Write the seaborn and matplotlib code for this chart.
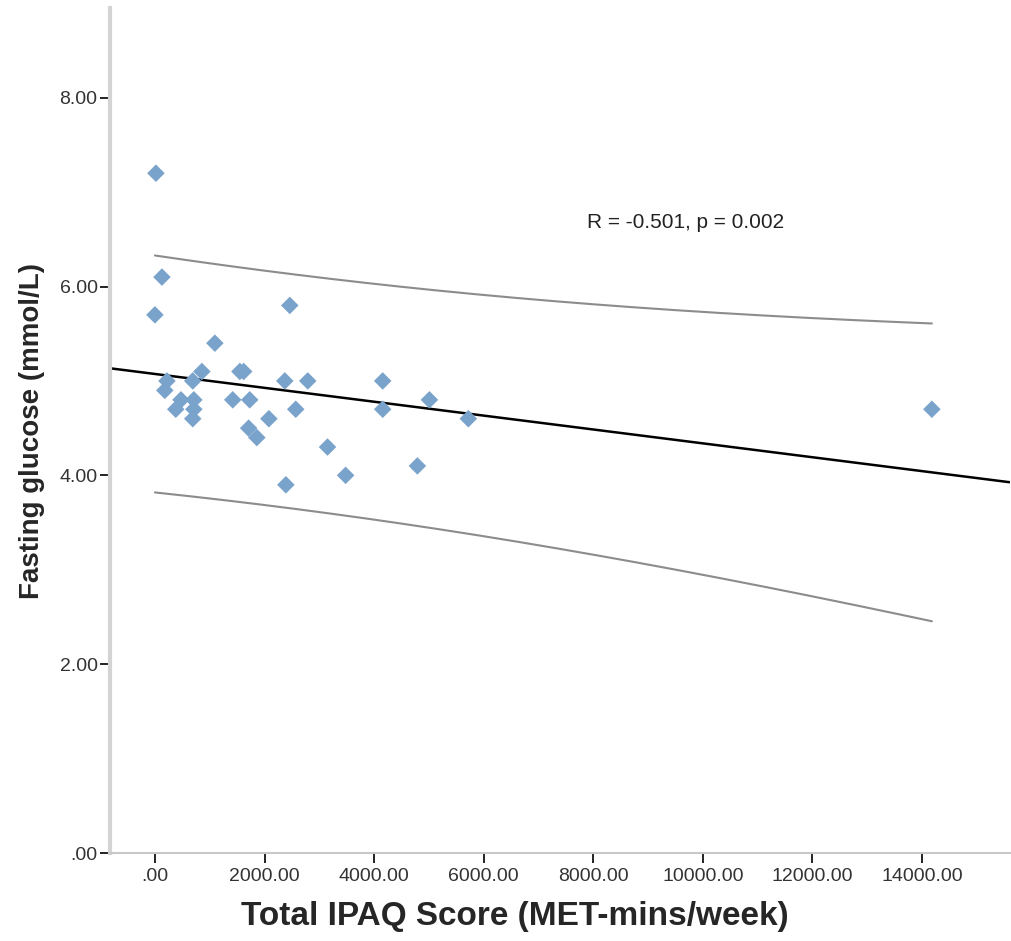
import numpy as np
import pandas as pd
import matplotlib
matplotlib.use("Agg")
import matplotlib.pyplot as plt
import seaborn as sns

# values
ipaq = [18, 128, 0, 1094, 2461, 857, 1550, 1620, 219, 690, 2370, 2789, 4157,
        180, 475, 710, 1420, 1730, 5010, 380, 710, 2570, 4157, 5720, 690, 2080,
        1710, 1860, 3150, 4790, 3480, 2390, 14180]
glucose = [7.2, 6.1, 5.7, 5.4, 5.8, 5.1, 5.1, 5.1, 5.0, 5.0, 5.0, 5.0, 5.0,
           4.9, 4.8, 4.8, 4.8, 4.8, 4.8, 4.7, 4.7, 4.7, 4.7, 4.6, 4.6, 4.6,
           4.5, 4.4, 4.3, 4.1, 4.0, 3.9, 4.7]
x_ticks = [0, 2000, 4000, 6000, 8000, 10000, 12000, 14000]
y_ticks = [0, 2, 4, 6, 8]
annot = "R = -0.501, p = 0.002"

df = pd.DataFrame({"ipaq": ipaq, "glucose": glucose})

sns.set_style("white")
plt.rcParams['font.family'] = ['Liberation Sans', 'DejaVu Sans']

fig = plt.figure(figsize=(10.12, 9.41), dpi=100)
ax = fig.add_axes([0.1087, 0.0935, 0.889, 0.898])

# least squares fit + 95% prediction interval for individuals
x = df["ipaq"].to_numpy(float)
y = df["glucose"].to_numpy(float)
n = len(x)
b1, b0 = np.polyfit(x, y, 1)
resid = y - (b0 + b1 * x)
s = np.sqrt((resid ** 2).sum() / (n - 2))
t = 2.04
xs = np.linspace(x.min(), x.max(), 200)
se = s * np.sqrt(1 + 1 / n + (xs - x.mean()) ** 2 / ((x - x.mean()) ** 2).sum())
fit_x = np.array([-820, 15600])

ax.plot(fit_x, b0 + b1 * fit_x, color="black", lw=1.8, zorder=2)
ax.plot(xs, b0 + b1 * xs + t * se, color="#8c8c8c", lw=1.5, zorder=2)
ax.plot(xs, b0 + b1 * xs - t * se, color="#8c8c8c", lw=1.5, zorder=2)

sns.scatterplot(data=df, x="ipaq", y="glucose", ax=ax, marker="D", s=80,
                color="#7aa3cc", edgecolor="none", zorder=3)

ax.text(9680, 6.68, annot, fontsize=15, ha="center", va="center", color="#222222")

ax.set_xlim(-820, 15600)
ax.set_ylim(0, 8.95)
ax.set_xticks(x_ticks)
ax.set_xticklabels([".00" if v == 0 else f"{v:.2f}" for v in x_ticks])
ax.set_yticks(y_ticks)
ax.set_yticklabels([".00" if v == 0 else f"{v:.2f}" for v in y_ticks])
ax.tick_params(axis="both", bottom=True, left=True, direction="out", length=7,
               width=1.4, color="#222222", labelsize=14, labelcolor="#333333")
ax.tick_params(axis="x", pad=4)
ax.tick_params(axis="y", pad=2)

for side in ["top", "right"]:
    ax.spines[side].set_visible(False)
ax.spines["left"].set_color("#d4d4d4")
ax.spines["left"].set_linewidth(3)
ax.spines["bottom"].set_color("#c8c8c8")
ax.spines["bottom"].set_linewidth(1.5)

ax.set_xlabel("Total IPAQ Score (MET-mins/week)", fontsize=24, fontweight="bold", labelpad=11)
ax.xaxis.label.set_x(0.45)
ax.set_ylabel("Fasting glucose (mmol/L)", fontsize=20, fontweight="bold", labelpad=10)

fig.savefig("out.png", dpi=100)
